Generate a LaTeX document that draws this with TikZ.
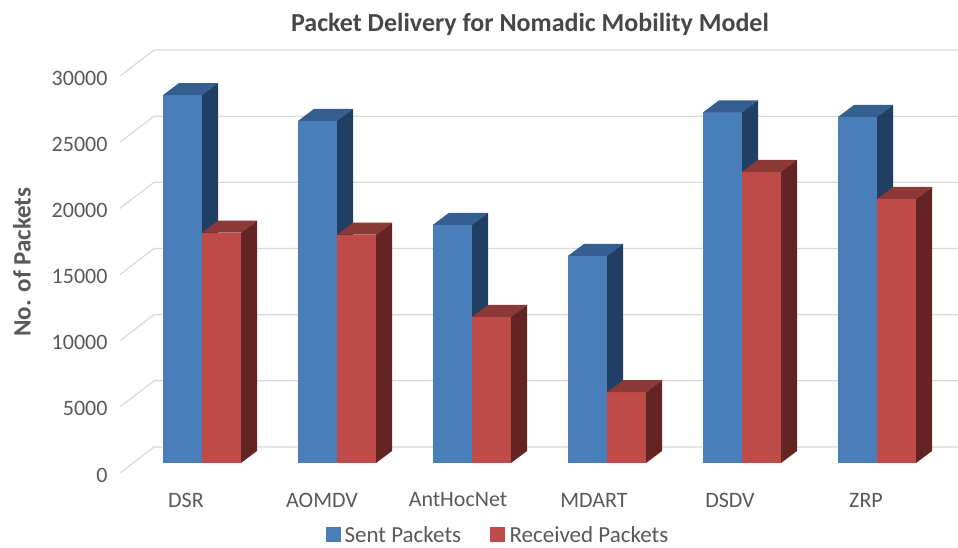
\documentclass[tikz,border=0pt]{standalone}
\usepackage{fontspec}
\setmainfont{Carlito}

\definecolor{sentfront}{HTML}{4A7EBB}
\definecolor{senttop}{HTML}{355F91}
\definecolor{sentside}{HTML}{203F63}
\definecolor{recvfront}{HTML}{BE4B48}
\definecolor{recvtop}{HTML}{8C3836}
\definecolor{recvside}{HTML}{632423}
\definecolor{gridgray}{HTML}{D9D9D9}
\definecolor{labelgray}{HTML}{595959}

\tikzset{
  ticklabel/.style={anchor=east, text=labelgray, font=\fontsize{22}{26}\selectfont},
  catlabel/.style={text=labelgray, font=\fontsize{22}{26}\selectfont},
  legendname/.style={anchor=west, text=labelgray, font=\fontsize{23}{27}\selectfont},
  legendkey/.style={minimum size=15pt, inner sep=0pt},
}

% one bar with top and side: front x, value in thousands, colour prefix
\newcommand{\packetbar}[3]{%
  \pgfmathsetmacro{\barh}{#2*13.233}
  \fill[#3front] (#1,85) rectangle ++(39,\barh);
  \fill[#3top] (#1,85+\barh) -- ++(16,12) -- ++(39,0) -- ++(-16,-12) -- cycle;
  \fill[#3side] (#1+39,85) -- ++(16,12) -- ++(0,\barh) -- ++(-16,-12) -- cycle;
}

% gridline on floor edge and back wall: value in thousands, printed label
\newcommand{\gridat}[2]{%
  \pgfmathsetmacro{\gridy}{101+#1*13.233}
  \draw[gridgray, line width=1.2pt] (120,\gridy-26) -- (154,\gridy) -- (958,\gridy);
  \node[ticklabel] (tick#1) at (111,\gridy-28) {#2};
}

\begin{document}
\begin{tikzpicture}[x=1pt,y=1pt]
  \useasboundingbox (0,0) rectangle (958,548);

  \node[font=\bfseries\fontsize{26}{30}\selectfont, text=black!72] (title) at (530,524) {Packet Delivery for Nomadic Mobility Model};
  \node[rotate=90, font=\bfseries\fontsize{25}{29}\selectfont, text=labelgray] (ytitle) at (22,286) {No. of Packets};

  \gridat{0}{0}
  \gridat{5}{5000}
  \gridat{10}{10000}
  \gridat{15}{15000}
  \gridat{20}{20000}
  \gridat{25}{25000}
  \gridat{30}{30000}

  \packetbar{163}{27.80}{sent}
  \packetbar{202}{17.40}{recv}
  \packetbar{298}{25.85}{sent}
  \packetbar{337}{17.25}{recv}
  \packetbar{433}{18.00}{sent}
  \packetbar{472}{11.05}{recv}
  \packetbar{568}{15.65}{sent}
  \packetbar{607}{5.35}{recv}
  \packetbar{703}{26.50}{sent}
  \packetbar{742}{22.00}{recv}
  \packetbar{838}{26.15}{sent}
  \packetbar{877}{19.95}{recv}

  \node[catlabel] (dsr) at (186,48) {DSR};
  \node[catlabel] (aomdv) at (322,48) {AOMDV};
  \node[catlabel] (anthocnet) at (458,48) {AntHocNet};
  \node[catlabel] (mdart) at (594,48) {MDART};
  \node[catlabel] (dsdv) at (730,48) {DSDV};
  \node[catlabel] (zrp) at (866,48) {ZRP};

  \node[legendkey, fill=sentfront] (sentkey) at (333.5,13) {};
  \node[legendname] (sentname) at (341,13) {Sent Packets};
  \node[legendkey, fill=recvfront] (recvkey) at (497.5,13) {};
  \node[legendname] (recvname) at (506,13) {Received Packets};
\end{tikzpicture}
\end{document}
